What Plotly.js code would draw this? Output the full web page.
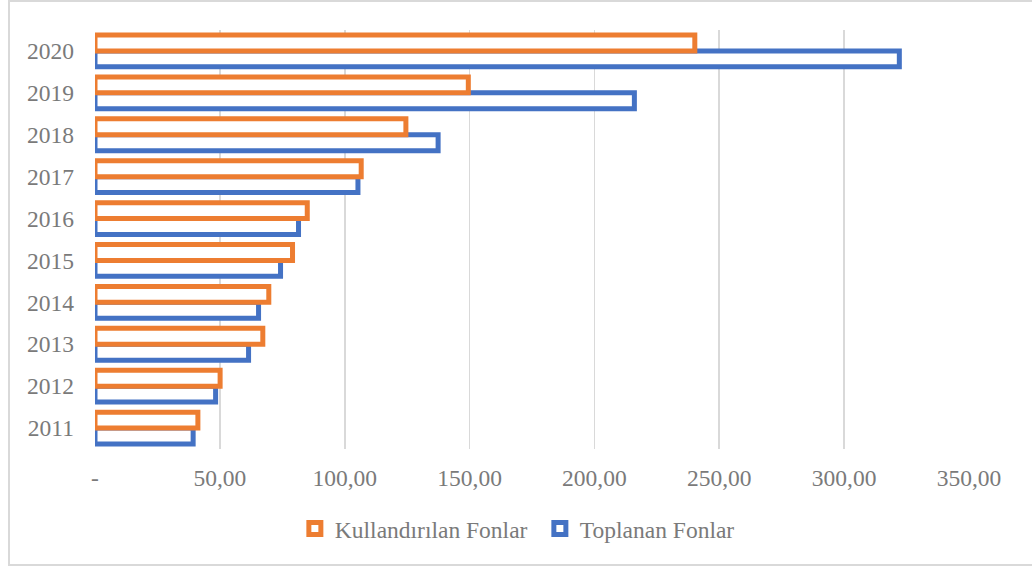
<!DOCTYPE html>
<html>
<head>
<meta charset="utf-8">
<script src="https://cdn.plot.ly/plotly-3.0.1.min.js"></script>
<style>
html,body{margin:0;padding:0;background:#fff;}
#frame{position:absolute;left:8px;top:0px;width:1040px;height:566px;border:2px solid #d9d9d9;box-sizing:border-box;}
#chart{position:absolute;left:0;top:0;width:1032px;height:569px;}
</style>
</head>
<body>
<div id="frame"></div>
<div id="chart"></div>
<script>
const years = ["2011","2012","2013","2014","2015","2016","2017","2018","2019","2020"];
const kullandirilan = [41.2, 50.1, 67.2, 69.6, 79.1, 85.0, 106.6, 124.5, 149.5, 240.2];
const toplanan = [39.3, 48.3, 61.5, 65.5, 74.3, 81.5, 105.3, 137.4, 216.0, 322.1];
const tickVals = [0, 50, 100, 150, 200, 250, 300, 350];
const tickText = ["-", "50,00", "100,00", "150,00", "200,00", "250,00", "300,00", "350,00"];
const seriesNames = ["Kullandırılan Fonlar", "Toplanan Fonlar"];
const seriesColors = ["#ED7D31", "#4472C4"];

const fontFam = "'Liberation Serif', 'Times New Roman', serif";
const txtColor = "#7a7a7a";
const fs = 23.5;

const traces = [
  {
    type: "bar", orientation: "h", name: seriesNames[1], showlegend: false,
    y: years, x: toplanan,
    marker: {color: "#ffffff", line: {color: seriesColors[1], width: 5}},
    hoverinfo: "x+y"
  },
  {
    type: "bar", orientation: "h", name: seriesNames[0], showlegend: false,
    y: years, x: kullandirilan,
    marker: {color: "#ffffff", line: {color: seriesColors[0], width: 5}},
    hoverinfo: "x+y"
  },
  // legend proxies (no data points)
  {
    type: "scatter", mode: "markers", name: seriesNames[0],
    x: [null], y: [null],
    marker: {symbol: "square", size: 12, color: "#ffffff", line: {color: seriesColors[0], width: 5}}
  },
  {
    type: "scatter", mode: "markers", name: seriesNames[1],
    x: [null], y: [null],
    marker: {symbol: "square", size: 12, color: "#ffffff", line: {color: seriesColors[1], width: 5}}
  }
];

const layout = {
  width: 1032, height: 569,
  margin: {l: 95, r: 63, t: 30, b: 120, pad: 0},
  paper_bgcolor: "rgba(0,0,0,0)",
  plot_bgcolor: "rgba(0,0,0,0)",
  barmode: "group",
  bargap: 0.24,
  bargroupgap: 0,
  font: {family: fontFam, size: fs, color: txtColor},
  xaxis: {
    range: [0, 350],
    tickvals: tickVals, ticktext: tickText,
    showgrid: true, gridcolor: "#d9d9d9", gridwidth: 1.8,
    zeroline: false, showline: false,
    ticks: "", ticklabelstandoff: 12,
    tickfont: {family: fontFam, size: fs, color: txtColor}
  },
  yaxis: {
    type: "category",
    categoryorder: "array", categoryarray: years,
    showgrid: false, zeroline: false, showline: false,
    ticks: "", ticklabelstandoff: 20,
    tickfont: {family: fontFam, size: fs, color: txtColor}
  },
  showlegend: true,
  legend: {
    orientation: "h", traceorder: "normal",
    x: 0.509, xanchor: "center", y: -0.19, yanchor: "middle",
    font: {family: fontFam, size: fs, color: txtColor},
    itemwidth: 30,
    entrywidth: 200, entrywidthmode: "pixels"
  }
};

Plotly.newPlot("chart", traces, layout, {displayModeBar: false, staticPlot: true});
</script>
</body>
</html>
